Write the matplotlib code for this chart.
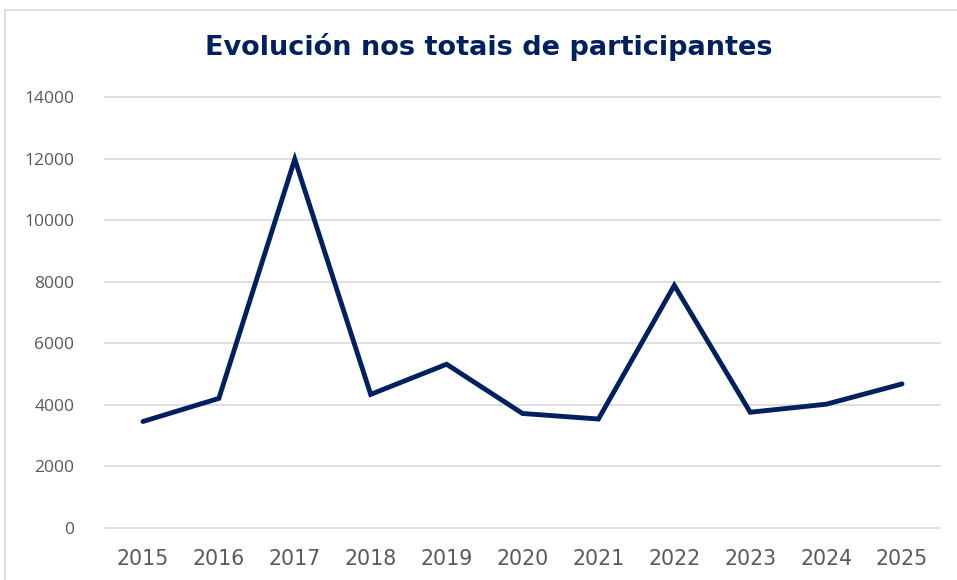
import matplotlib.pyplot as plt
from matplotlib.patches import Rectangle

# dados
anos = ['2015', '2016', '2017', '2018', '2019', '2020', '2021', '2022', '2023', '2024', '2025']
participantes = [3460, 4210, 11980, 4340, 5320, 3720, 3540, 7880, 3760, 4020, 4680]
yticks = [0, 2000, 4000, 6000, 8000, 10000, 12000, 14000]

navy = '#002060'
grey_txt = '#595959'

fig = plt.figure(figsize=(9.57, 5.8), dpi=100)
ax = fig.add_axes([105 / 957, 1 - 528 / 580, (940 - 105) / 957, (528 - 97) / 580])

# marco do gráfico (estilo Excel)
fig.patches.append(Rectangle((5 / 957, -0.1), 1.2, 1 - 10 / 580 + 0.1,
                             transform=fig.transFigure, fill=False,
                             edgecolor='#D9D9D9', linewidth=1.2))

x = range(len(anos))
ax.plot(x, participantes, color=navy, linewidth=3.5, solid_capstyle='round',
        solid_joinstyle='miter', zorder=3)

ax.set_xlim(-0.5, len(anos) - 0.5)
ax.set_ylim(0, 14000)
ax.set_yticks(yticks)
ax.set_yticklabels([str(v) for v in yticks], fontfamily='Open Sans', fontsize=12.5, color=grey_txt)
ax.set_xticks(list(x))
ax.set_xticklabels(anos, fontfamily='DejaVu Sans', fontsize=14.8, color=grey_txt)
ax.tick_params(axis='y', length=0, pad=22)
ax.tick_params(axis='x', length=0, pad=15)
ax.grid(axis='y', color='#D9D9D9', linewidth=1.2)
for gl in ax.get_ygridlines():
    gl.set_clip_on(False)
ax.set_axisbelow(True)
for s in ax.spines.values():
    s.set_visible(False)

fig.text(489 / 957, 1 - 47 / 580, 'Evolución nos totais de participantes',
         ha='center', va='center', fontsize=19.5, fontweight='bold', color=navy,
         fontfamily='DejaVu Sans')

fig.savefig('out.png', dpi=100)
